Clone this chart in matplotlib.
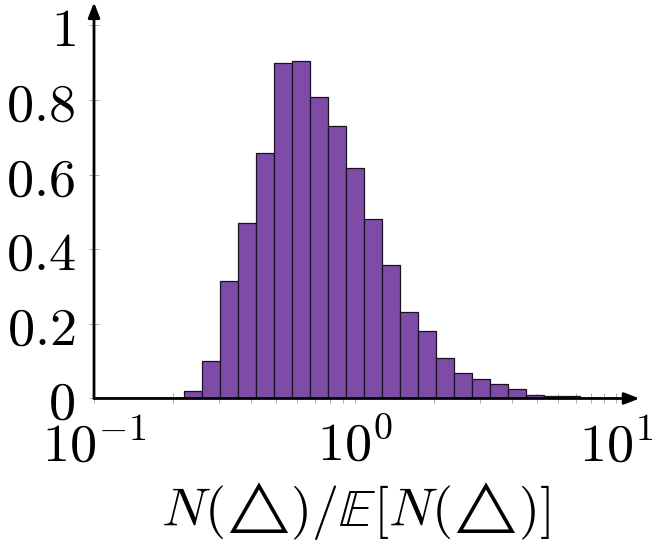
import matplotlib.pyplot as plt
import numpy as np
from matplotlib.ticker import LogLocator, FixedLocator

plt.rcParams["mathtext.fontset"] = "cm"
plt.rcParams["font.family"] = "serif"
plt.rcParams["font.serif"] = ["DejaVu Serif"]

# histogram: 29 log-spaced bins between 0.1 and 10
bin_lo, bin_hi, n_bins = 0.1, 10.0, 29
density = [0, 0, 0, 0, 0, 0.021, 0.100, 0.315, 0.470, 0.659,
           0.900, 0.905, 0.807, 0.731, 0.619, 0.481, 0.357, 0.232, 0.181, 0.109,
           0.068, 0.052, 0.039, 0.025, 0.009, 0.007, 0.007, 0.002, 0.001]
y_ticks = [0, 0.2, 0.4, 0.6, 0.8, 1]
y_tick_labels = ["$0$", "$0.2$", "$0.4$", "$0.6$", "$0.8$", "$1$"]
x_ticks = [0.1, 1, 10]
x_tick_labels = [r"$10^{-1}$", r"$10^{0}$", r"$10^{1}$"]

edges = np.logspace(np.log10(bin_lo), np.log10(bin_hi), n_bins + 1)

fig = plt.figure(figsize=(6.63, 5.53), dpi=100)
ax = fig.add_axes([0.1418, 0.2794, 0.7873, 0.6745])

ax.bar(edges[:-1], density, width=np.diff(edges), align="edge",
       color="#7e4ca6", edgecolor="#1a1020", linewidth=0.9, zorder=2)

ax.set_xscale("log")
ax.set_xlim(bin_lo, bin_hi)
ax.set_ylim(0, 1)

for side in ["top", "right", "left", "bottom"]:
    ax.spines[side].set_visible(False)

arrow = dict(arrowstyle="-|>,head_length=0.9,head_width=0.35", color="black",
             lw=2.0, shrinkA=0, shrinkB=0)
ax.annotate("", xy=(1.045, 0), xytext=(0, 0), xycoords="axes fraction",
            arrowprops=arrow, annotation_clip=False, zorder=5)
ax.annotate("", xy=(0, 1.062), xytext=(0, 0), xycoords="axes fraction",
            arrowprops=arrow, annotation_clip=False, zorder=5)

ax.xaxis.set_major_locator(FixedLocator(x_ticks))
ax.xaxis.set_minor_locator(LogLocator(base=10, subs=np.arange(2, 10)))
ax.set_xticklabels(x_tick_labels)
ax.xaxis.set_minor_formatter(plt.NullFormatter())
ax.set_yticks(y_ticks)
ax.set_yticklabels(y_tick_labels)

ax.tick_params(axis="both", which="both", direction="inout", color="#a0a0a0",
               width=0.6, length=7, labelsize=39)
ax.tick_params(axis="x", which="major", pad=12)
ax.tick_params(axis="y", which="major", pad=10)

ax.set_xlabel(r"$N(\!\triangle\!)/\mathbb{E}[N(\!\triangle\!)]$", fontsize=39, labelpad=6)

fig.savefig("out.png", dpi=100)
